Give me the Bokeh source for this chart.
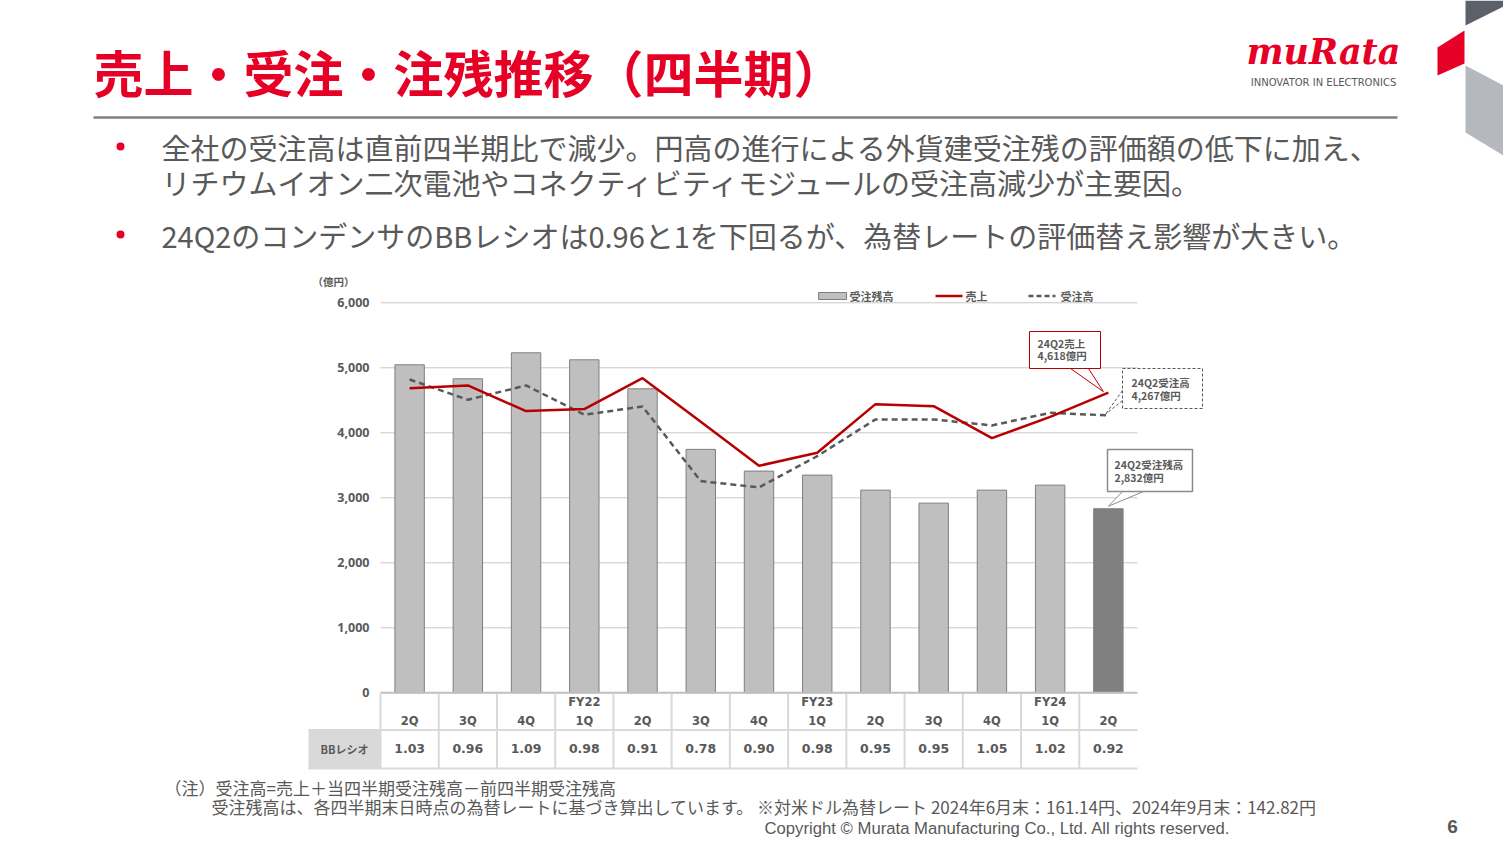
from bokeh.plotting import figure
from bokeh.models import Range1d
from bokeh.core.properties import value
from bokeh.embed import file_html
from bokeh.resources import INLINE

# ---------------- data ----------------
quarters = ["2Q", "3Q", "4Q", "1Q", "2Q", "3Q", "4Q", "1Q", "2Q", "3Q", "4Q", "1Q", "2Q"]
fiscal_years = ["", "", "", "FY22", "", "", "", "FY23", "", "", "", "FY24", ""]
backlog = [5046, 4831, 5231, 5123, 4677, 3745, 3411, 3349, 3118, 2918, 3118, 3195, 2832]
sales = [4686, 4728, 4334, 4365, 4840, 4169, 3492, 3692, 4441, 4410, 3918, 4246, 4618]
orders = [4820, 4508, 4728, 4277, 4405, 3257, 3160, 3641, 4206, 4206, 4113, 4308, 4267]
bb_ratio = [1.03, 0.96, 1.09, 0.98, 0.91, 0.78, 0.90, 0.98, 0.95, 0.95, 1.05, 1.02, 0.92]
y_ticks = [0, 1000, 2000, 3000, 4000, 5000, 6000]
y_tick_labels = ["0", "1,000", "2,000", "3,000", "4,000", "5,000", "6,000"]

title = "売上・受注・注残推移（四半期）"
bullets = [
    ["全社の受注高は直前四半期比で減少。円高の進行による外貨建受注残の評価額の低下に加え、",
     "リチウムイオン二次電池やコネクティビティモジュールの受注高減少が主要因。"],
    ["24Q2のコンデンサのBBレシオは0.96と1を下回るが、為替レートの評価替え影響が大きい。"],
]
notes = ["（注）受注高=売上＋当四半期受注残高－前四半期受注残高",
         "受注残高は、各四半期末日時点の為替レートに基づき算出しています。 ※対米ドル為替レート 2024年6月末：161.14円、2024年9月末：142.82円"]

# ---------------- layout ----------------
W, H = 1503, 845
PL, PR = 380.0, 1137.0      # chart frame left / right (px)
PT, PB = 302.3, 692.3       # y=6000 / y=0 (px)
YMAX = 6000.0
n = len(quarters)
step = (PR - PL) / n
k = YMAX / (PB - PT)
cx0 = -0.5 - PL / step
cy0 = -(H - PB) * k

def px(i):
    return PL + (i + 0.5) * step

def py(v):
    return PB - v / k

JP = value("Noto Sans CJK JP")
GRAY = "#595959"
RED = "#E60026"

p = figure(width=W, height=H, x_range=Range1d(0, W), y_range=Range1d(H, 0),
           x_axis_type=None, y_axis_type=None, output_backend="svg",
           toolbar_location=None, min_border=0, outline_line_color=None,
           background_fill_color="white", border_fill_color="white")
p.extra_x_ranges = {"c": Range1d(cx0, cx0 + W / step)}
p.extra_y_ranges = {"c": Range1d(cy0, cy0 + H * k)}
C = dict(x_range_name="c", y_range_name="c")
T = dict(x_range_name="c")
idx = list(range(n))

# ---------------- slide decorations ----------------
p.text(x=[93], y=[70], text=[title], text_font=JP, text_font_style="bold",
       text_font_size="50px", text_color=RED, text_baseline="middle")
p.segment(x0=[93], y0=[117], x1=[1397], y1=[117], line_color="#7F7F7F", line_width=2.5)
p.text(x=[1323], y=[51], text=["muRata"], text_font=value("DejaVu Serif"),
       text_font_style="bold italic", text_font_size="35px", text_color=RED,
       text_align="center", text_baseline="middle")
p.text(x=[1323], y=[82], text=["INNOVATOR IN ELECTRONICS"], text_font=value("DejaVu Sans"),
       text_font_size="10px", text_color=GRAY, text_align="center", text_baseline="middle")
p.patch([1465, 1503, 1503, 1465], [0, 0, 6, 25], fill_color="#5B6169", line_color=None)
p.patch([1437, 1464, 1464, 1437], [47, 30, 63, 75], fill_color=RED, line_color=None)
p.patch([1465, 1503, 1503, 1465], [65, 85, 155, 132], fill_color="#B5B8BC", line_color=None)

bullet_y = [[146, 181], [234]]
for lines, ys in zip(bullets, bullet_y):
    p.scatter(x=[120], y=[ys[0]], marker="circle", size=8, fill_color=RED, line_color=None)
    p.text(x=[161] * len(lines), y=ys, text=lines, text_font=JP, text_font_size="29px",
           text_color=GRAY, text_baseline="middle")

p.text(x=[164], y=[787], text=[notes[0]], text_font=JP, text_font_size="17px",
       text_color=GRAY, text_baseline="middle")
p.text(x=[211], y=[806], text=[notes[1]], text_font=JP, text_font_size="17px",
       text_color=GRAY, text_baseline="middle")
p.text(x=[764], y=[828], text=["Copyright © Murata Manufacturing Co., Ltd. All rights reserved."],
       text_font=value("Liberation Sans"), text_font_size="16.7px", text_color=GRAY,
       text_baseline="middle")
p.text(x=[1452], y=[826], text=["6"], text_font=value("Liberation Sans"),
       text_font_style="bold", text_font_size="19px", text_color=GRAY,
       text_align="center", text_baseline="middle")

# ---------------- chart ----------------
p.segment(x0=[-0.5] * len(y_ticks[1:]), x1=[n - 0.5] * len(y_ticks[1:]),
          y0=y_ticks[1:], y1=y_ticks[1:], line_color="#C8C8C8", line_width=1, **C)
bar_colors = ["#BFBFBF"] * (n - 1) + ["#808080"]
p.vbar(x=idx, top=backlog, bottom=0, width=0.505, fill_color=bar_colors,
       line_color="#7F7F7F", line_width=1, **C)
p.segment(x0=[-0.5], x1=[n - 0.5], y0=[0], y1=[0], line_color="#BFBFBF", line_width=2, **C)
p.line(idx, orders, line_color=GRAY, line_width=2.5, line_dash="6 4", **C)
p.line(idx, sales, line_color="#B80000", line_width=2.5, **C)

p.text(x=[-0.5] * len(y_ticks), y=y_ticks, text=y_tick_labels, x_offset=-11,
       text_font=value("Noto Sans"), text_font_style="bold", text_font_size="12.5px",
       text_color=GRAY, text_align="right", text_baseline="middle", **C)
p.text(x=[318], y=[281], text=["（億円）"], text_font=JP, text_font_style="bold",
       text_font_size="10.5px", text_color=GRAY, text_baseline="middle", x_offset=-6)

# legend
p.quad(left=[818], right=[846], top=[292], bottom=[299], fill_color="#BFBFBF", line_color="#7F7F7F")
p.segment(x0=[935], x1=[962], y0=[295.5], y1=[295.5], line_color="#B80000", line_width=2.5)
p.segment(x0=[1028], x1=[1055], y0=[295.5], y1=[295.5], line_color=GRAY, line_width=2.5, line_dash="5 3")
p.text(x=[849, 965, 1060], y=[295.5] * 3, text=["受注残高", "売上", "受注高"], text_font=JP,
       text_font_style="bold", text_font_size="11px", text_color=GRAY, text_baseline="middle")

# table
bounds = [i - 0.5 for i in range(n)]
p.segment(x0=bounds, x1=bounds, y0=[693] * n, y1=[768] * n, line_color="#D9D9D9", line_width=2, **T)
p.quad(left=[308], right=[PL], top=[729.5], bottom=[768], fill_color="#D9D9D9", line_color=None)
p.segment(x0=[308, 308], x1=[PR, PR], y0=[729.5, 768], y1=[729.5, 768], line_color="#D9D9D9", line_width=2)
p.text(x=[344], y=[748], text=["BBレシオ"], text_font=JP, text_font_style="bold",
       text_font_size="11px", text_color=GRAY, text_align="center", text_baseline="middle")
p.text(x=idx, y=[720] * n, text=quarters, text_font=value("DejaVu Sans"), text_font_style="bold",
       text_font_size="11.5px", text_color=GRAY, text_align="center", text_baseline="middle", **T)
p.text(x=idx, y=[701] * n, text=fiscal_years, text_font=value("DejaVu Sans"), text_font_style="bold",
       text_font_size="11.5px", text_color=GRAY, text_align="center", text_baseline="middle", **T)
p.text(x=idx, y=[748] * n, text=[f"{v:.2f}" for v in bb_ratio], text_font=value("DejaVu Sans"),
       text_font_style="bold", text_font_size="12.5px", text_color=GRAY, text_align="center",
       text_baseline="middle", **T)

# callouts
last = n - 1
tx, ty = px(last) - 5, py(sales[last]) - 1
p.patch([1070, tx, 1088], [367, ty, 367], fill_color="white", line_color=None)
p.segment(x0=[1070, 1088], y0=[368, 368], x1=[tx, tx], y1=[ty, ty], line_color="#B80000", line_width=1)
p.quad(left=[1029], right=[1100], top=[331], bottom=[368], fill_color="white",
       line_color="#B80000", line_width=1)

tx, ty = px(last) - 3, py(orders[last]) - 1
p.patch([1123, tx, 1123], [390, ty, 400], fill_color="white", line_color=None)
p.segment(x0=[1122, 1122], y0=[390, 400], x1=[tx, tx], y1=[ty, ty], line_color=GRAY,
          line_width=1, line_dash="3 2")
p.quad(left=[1122], right=[1202], top=[368], bottom=[408], fill_color="white",
       line_color=GRAY, line_width=1, line_dash="3 2")

tx, ty = px(last), py(backlog[last]) - 2.5
p.patch([1122, tx, 1143], [490, ty, 490], fill_color="white", line_color=None)
p.segment(x0=[1122, 1143], y0=[491, 491], x1=[tx, tx], y1=[ty, ty], line_color="#8C8C8C", line_width=1)
p.quad(left=[1107], right=[1192], top=[449], bottom=[491], fill_color="white",
       line_color="#8C8C8C", line_width=1.5)

p.text(x=[1037, 1037, 1131, 1131, 1114, 1114], y=[342.7, 355, 382.3, 395, 464.3, 477],
       text=["24Q2売上", f"{sales[last]:,}億円", "24Q2受注高", f"{orders[last]:,}億円",
             "24Q2受注残高", f"{backlog[last]:,}億円"],
       text_font=JP, text_font_style="bold", text_font_size="10.5px", text_color=GRAY,
       text_baseline="middle")

open("out.html", "w").write(file_html(p, INLINE))
